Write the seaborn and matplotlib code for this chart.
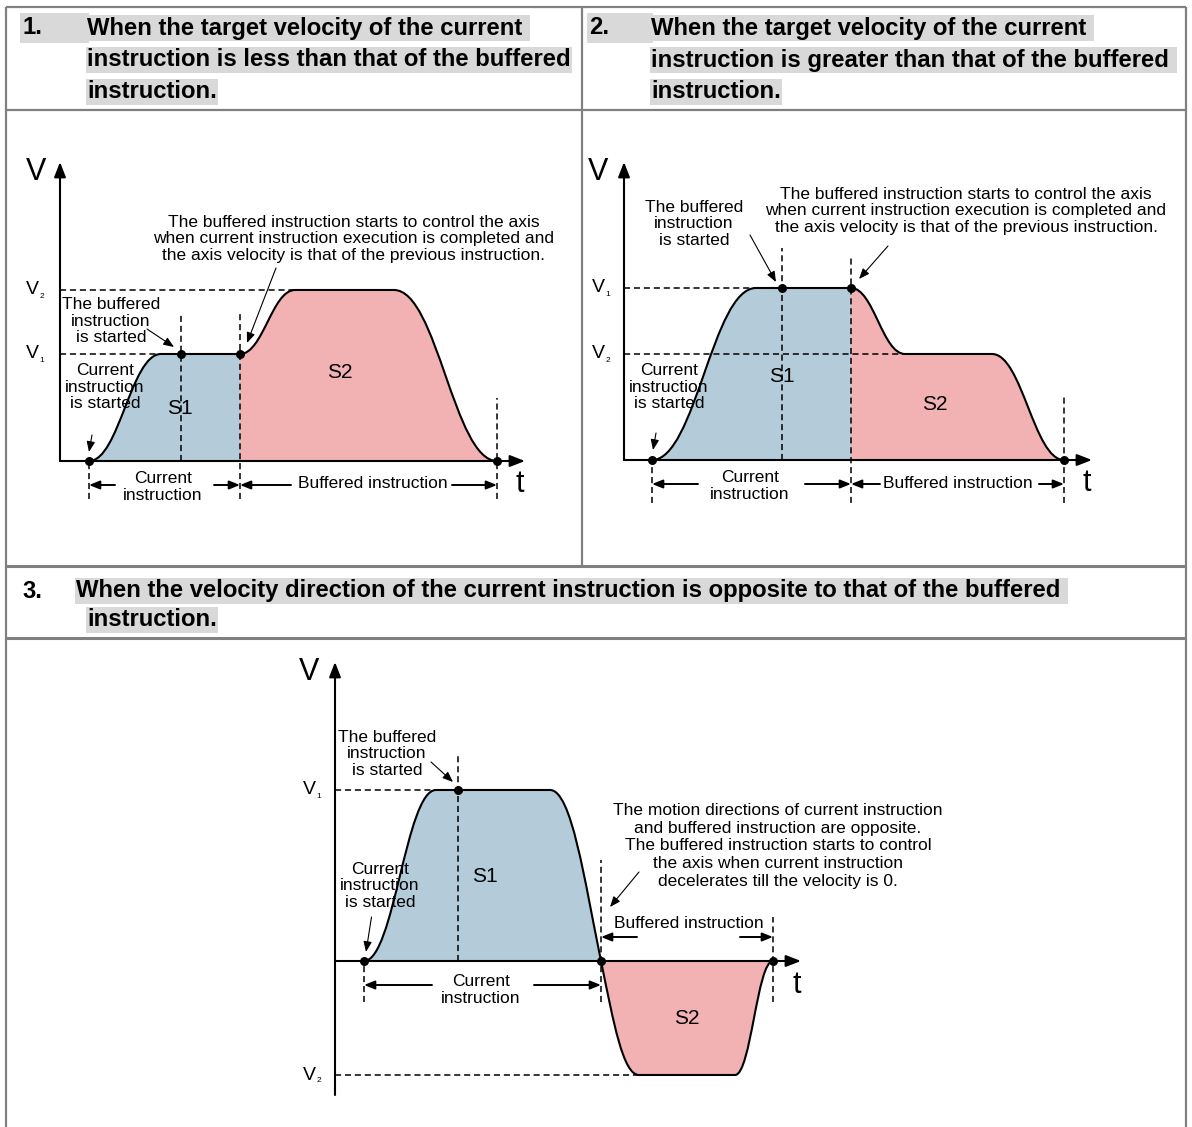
#!/usr/bin/env python3
"""Buffered-instruction velocity profiles (three cases) drawn as a bordered table."""

import matplotlib

matplotlib.use("Agg")
import matplotlib.pyplot as plt
import seaborn as sns
from matplotlib.path import Path
from matplotlib.patches import PathPatch, Rectangle

FIG_W, FIG_H = 1192, 1127

# ---------------- data: velocity profiles (t, V in diagram units) ----------------
# case 1: current target velocity < buffered target velocity
C1_T = [2.9, 10.1, 18.0, 23.5, 33.4, 43.7]
C1_V = [0.0, 10.7, 10.7, 17.1, 17.1, 0.0]
C1_SLOPE = [0, 0, 0, 0, 0, 0]
C1_SPLIT = 2
C1_DOT_T = [2.9, 12.1, 18.0, 43.7]
C1_DOT_V = [0.0, 10.7, 10.7, 0.0]
C1_LEVEL_NAME = ["2", "1"]
C1_LEVEL_V = [17.1, 10.7]
C1_LEVEL_END = [23.5, 10.1]
C1_GUIDE_T = [12.1, 18.0, 2.9, 43.7]
C1_GUIDE_LO = [0.0, -3.8, -3.8, -3.8]
C1_GUIDE_HI = [14.9, 14.9, 0.0, 6.3]

# case 2: current target velocity > buffered target velocity
C2_T = [2.8, 13.2, 22.7, 28.1, 36.8, 44.0]
C2_V = [0.0, 17.2, 17.2, 10.6, 10.6, 0.0]
C2_SLOPE = [0, 0, 0, 0, 0, 0]
C2_SPLIT = 2
C2_DOT_T = [2.8, 15.8, 22.7, 44.0]
C2_DOT_V = [0.0, 17.2, 17.2, 0.0]
C2_LEVEL_NAME = ["1", "2"]
C2_LEVEL_V = [17.2, 10.6]
C2_LEVEL_END = [13.2, 28.1]
C2_GUIDE_T = [15.8, 22.7, 2.8, 44.0]
C2_GUIDE_LO = [0.0, -4.3, -4.3, -4.3]
C2_GUIDE_HI = [21.2, 20.3, 0.0, 6.3]

# case 3: opposite velocity directions
C3_T = [2.9, 10.1, 21.5, 26.6, 30.4, 40.0, 43.8]
C3_V = [0.0, 17.1, 17.1, 0.0, -11.4, -11.4, 0.0]
C3_SLOPE = [0, 0, 0, -4.9, 0, 0, 0]
C3_SPLIT = 3
C3_DOT_T = [2.9, 12.3, 26.6, 43.8]
C3_DOT_V = [0.0, 17.1, 0.0, 0.0]
C3_LEVEL_NAME = ["1", "2"]
C3_LEVEL_V = [17.1, -11.4]
C3_LEVEL_END = [10.1, 30.4]
C3_GUIDE_T = [12.3, 2.9, 26.6, 43.8]
C3_GUIDE_LO = [0.0, -4.1, -4.1, -4.1]
C3_GUIDE_HI = [20.8, 0.0, 10.1, 4.4]

HEAD1 = ["When the target velocity of the current ",
         "instruction is less than that of the buffered",
         "instruction."]
HEAD2 = ["When the target velocity of the current ",
         "instruction is greater than that of the buffered ",
         "instruction."]
HEAD3 = ["When the velocity direction of the current instruction is opposite to that of the buffered ",
         "instruction."]

NOTE_AXIS = ("The buffered instruction starts to control the axis\n"
             "when current instruction execution is completed and\n"
             "the axis velocity is that of the previous instruction.")
NOTE_OPPOSITE = ("The motion directions of current instruction\n"
                 "and buffered instruction are opposite.\n"
                 "The buffered instruction starts to control\n"
                 "the axis when current instruction\n"
                 "decelerates till the velocity is 0.")
BUF_STARTED = "The buffered\ninstruction\nis started"
CUR_STARTED = "Current\ninstruction\nis started"

BLUE = "#b4ccd9"
PINK = "#f2b1b3"
GRID = "#808080"
HILITE = "#d9d9d9"
DASH = (0, (4, 2.5))


def profile_path(t, v, m, i0, i1, close=False, frac=0.42):
    verts = [(t[i0], v[i0])]
    codes = [Path.MOVETO]
    for i in range(i0, i1):
        dt = t[i + 1] - t[i]
        h0 = frac * dt if m[i] == 0 else dt / 3
        h1 = frac * dt if m[i + 1] == 0 else dt / 3
        verts += [(t[i] + h0, v[i] + h0 * m[i]), (t[i + 1] - h1, v[i + 1] - h1 * m[i + 1]), (t[i + 1], v[i + 1])]
        codes += [Path.CURVE4] * 3
    if close:
        verts += [(t[i1], 0.0), (t[i0], 0.0), (t[i0], v[i0])]
        codes += [Path.LINETO, Path.LINETO, Path.CLOSEPOLY]
    return Path(verts, codes)


def arrow(ax, start, end, lw=1.0, scale=9, head="-|>,head_length=0.7,head_width=0.28"):
    ax.annotate("", xy=end, xytext=start, annotation_clip=False,
                arrowprops=dict(arrowstyle=head, color="black", lw=lw, shrinkA=0, shrinkB=0,
                                mutation_scale=scale))


def diagram_axes(fig, cell, origin):
    L, T, R, B = cell
    ox, oy = origin
    ax = fig.add_axes([L / FIG_W, 1 - B / FIG_H, (R - L) / FIG_W, (B - T) / FIG_H])
    ax.set_xlim((L - ox) / 10, (R - ox) / 10)
    ax.set_ylim((oy - B) / 10, (oy - T) / 10)
    ax.set_facecolor("none")
    ax.axis("off")
    return ax


def draw_profile(ax, t, v, m, split, dot_t, dot_v, lv_name, lv_v, lv_end, g_t, g_lo, g_hi,
                 y_top, y_bottom, x_tip, lab_x):
    ax.add_patch(PathPatch(profile_path(t, v, m, 0, split, close=True), facecolor=BLUE, edgecolor="none", zorder=1))
    ax.add_patch(PathPatch(profile_path(t, v, m, split, len(t) - 1, close=True), facecolor=PINK, edgecolor="none", zorder=1))
    ax.add_patch(PathPatch(profile_path(t, v, m, 0, len(t) - 1), facecolor="none", edgecolor="black", lw=1.5, zorder=4))

    ax.hlines(lv_v, 0, lv_end, colors="black", linestyles=DASH, lw=1.1, zorder=3)
    ax.vlines(g_t, g_lo, g_hi, colors="black", linestyles=DASH, lw=1.1, zorder=3)

    # axes with arrow heads
    axis_head = "-|>,head_length=0.9,head_width=0.35"
    arrow(ax, (0, y_bottom), (0, y_top), lw=1.5, scale=10, head=axis_head)
    arrow(ax, (0, 0), (x_tip, 0), lw=1.5, scale=10, head=axis_head)
    sns.scatterplot(x=dot_t, y=dot_v, ax=ax, color="black", s=42, linewidth=0, zorder=6, legend=False)

    for name, val in zip(lv_name, lv_v):
        ax.text(lab_x, val, "V", fontsize=14, ha="center", va="center")
        ax.text(lab_x + 1.0, val - 0.6, name, fontsize=6, ha="center", va="center")


def main() -> None:
    sns.set_theme(style="white")
    plt.rcParams["font.family"] = ["Liberation Sans", "DejaVu Sans"]
    plt.rcParams["text.color"] = "black"
    fig = plt.figure(figsize=(FIG_W / 100, FIG_H / 100), dpi=100)

    # ---------------- table frame and headers ----------------
    bg = fig.add_axes([0, 0, 1, 1])
    bg.set_xlim(0, FIG_W)
    bg.set_ylim(FIG_H, 0)
    bg.axis("off")
    bg.hlines([7, 110], 6, 1186, colors=GRID, lw=1.6)
    bg.hlines([566, 638], 6, 1186, colors=GRID, lw=2.2)
    bg.vlines([6, 1186], 7, FIG_H, colors=GRID, lw=1.6)
    bg.vlines(582, 7, 566, colors=GRID, lw=1.6)

    hfont = dict(fontsize=17.2, fontweight="bold", va="center", ha="left")
    hbox = dict(boxstyle="square,pad=0.05", facecolor=HILITE, edgecolor="none")

    def header(num_x, num, text_x, lines, ys, num_hilite=True, indent_x=None):
        if num_hilite:
            bg.add_patch(Rectangle((num_x - 2, ys[0] - 15), text_x - num_x + 4, 30, facecolor=HILITE, edgecolor="none"))
        bg.text(num_x, ys[0], num, **hfont)
        for k, (line, y) in enumerate(zip(lines, ys)):
            x = text_x if (k == 0 or indent_x is None) else indent_x
            bg.text(x, y, line, bbox=hbox, **hfont)

    header(22, "1.", 87, HEAD1, [28, 60, 92])
    header(589, "2.", 651, HEAD2, [28, 60, 92])
    header(22, "3.", 76, HEAD3, [591, 620], num_hilite=False, indent_x=87)

    note = dict(fontsize=12.5, ha="center", va="center", linespacing=1.15)
    sfont = dict(fontsize=15, ha="center", va="center", zorder=5)

    # ---------------- case 1 ----------------
    ax1 = diagram_axes(fig, (8, 112, 580, 564), (60, 461))
    draw_profile(ax1, C1_T, C1_V, C1_SLOPE, C1_SPLIT, C1_DOT_T, C1_DOT_V, C1_LEVEL_NAME, C1_LEVEL_V,
                 C1_LEVEL_END, C1_GUIDE_T, C1_GUIDE_LO, C1_GUIDE_HI, 29.9, 0, 46.5, -2.8)
    ax1.text(-2.4, 28.9, "V", fontsize=22, ha="center", va="center")
    ax1.text(46.0, -2.3, "t", fontsize=22, ha="center", va="center")
    ax1.text(12.0, 5.3, "S1", **sfont)
    ax1.text(28.0, 8.9, "S2", **sfont)
    ax1.text(29.4, 22.2, NOTE_AXIS, **note)
    arrow(ax1, (21.6, 19.3), (18.7, 11.8), lw=0.8, scale=9)
    ax1.text(5.1, 14.0, BUF_STARTED, zorder=5, **note)
    arrow(ax1, (8.7, 13.2), (11.4, 11.4), lw=0.8, scale=9)
    ax1.text(4.5, 7.4, CUR_STARTED, zorder=5, **note)
    arrow(ax1, (3.2, 2.6), (2.9, 0.9), lw=0.8, scale=9)
    ax1.text(10.3, -2.6, "Current\ninstruction", **note)
    arrow(ax1, (5.5, -2.4), (2.9, -2.4), lw=1.4)
    arrow(ax1, (15.4, -2.4), (18.0, -2.4), lw=1.4)
    ax1.text(31.3, -2.2, "Buffered instruction", **note)
    arrow(ax1, (23.1, -2.4), (18.0, -2.4), lw=1.4)
    arrow(ax1, (39.2, -2.4), (43.7, -2.4), lw=1.4)

    # ---------------- case 2 ----------------
    ax2 = diagram_axes(fig, (584, 112, 1184, 564), (624, 460))
    draw_profile(ax2, C2_T, C2_V, C2_SLOPE, C2_SPLIT, C2_DOT_T, C2_DOT_V, C2_LEVEL_NAME, C2_LEVEL_V,
                 C2_LEVEL_END, C2_GUIDE_T, C2_GUIDE_LO, C2_GUIDE_HI, 29.8, 0, 46.8, -2.6)
    ax2.text(-2.6, 28.8, "V", fontsize=22, ha="center", va="center")
    ax2.text(46.3, -2.3, "t", fontsize=22, ha="center", va="center")
    ax2.text(15.8, 8.3, "S1", **sfont)
    ax2.text(31.1, 5.5, "S2", **sfont)
    ax2.text(34.2, 24.9, NOTE_AXIS, **note)
    arrow(ax2, (26.4, 21.4), (23.5, 18.1), lw=0.8, scale=9)
    ax2.text(7.0, 23.6, BUF_STARTED, **note)
    arrow(ax2, (12.6, 22.5), (15.2, 17.8), lw=0.8, scale=9)
    ax2.text(4.5, 7.3, CUR_STARTED, zorder=5, **note)
    arrow(ax2, (3.2, 2.7), (2.9, 1.0), lw=0.8, scale=9)
    ax2.text(12.6, -2.6, "Current\ninstruction", **note)
    arrow(ax2, (7.4, -2.4), (2.8, -2.4), lw=1.4)
    arrow(ax2, (18.1, -2.4), (22.7, -2.4), lw=1.4)
    ax2.text(33.4, -2.3, "Buffered instruction", **note)
    arrow(ax2, (25.6, -2.4), (22.7, -2.4), lw=1.4)
    arrow(ax2, (41.5, -2.4), (44.0, -2.4), lw=1.4)

    # ---------------- case 3 ----------------
    ax3 = diagram_axes(fig, (8, 640, 1184, 1127), (335, 961))
    draw_profile(ax3, C3_T, C3_V, C3_SLOPE, C3_SPLIT, C3_DOT_T, C3_DOT_V, C3_LEVEL_NAME, C3_LEVEL_V,
                 C3_LEVEL_END, C3_GUIDE_T, C3_GUIDE_LO, C3_GUIDE_HI, 29.9, -13.4, 46.6, -2.6)
    ax3.text(-2.6, 28.9, "V", fontsize=22, ha="center", va="center")
    ax3.text(46.2, -2.4, "t", fontsize=22, ha="center", va="center")
    ax3.text(15.0, 8.5, "S1", **sfont)
    ax3.text(35.2, -5.7, "S2", **sfont)
    ax3.text(5.2, 20.7, BUF_STARTED, **note)
    arrow(ax3, (9.6, 19.9), (11.8, 17.9), lw=0.8, scale=9)
    ax3.text(4.5, 7.5, CUR_STARTED, zorder=5, **note)
    arrow(ax3, (3.65, 4.4), (3.1, 0.9), lw=0.8, scale=9)
    ax3.text(44.3, 11.5, NOTE_OPPOSITE, **dict(note, linespacing=1.22))
    arrow(ax3, (30.4, 8.9), (27.5, 5.4), lw=0.8, scale=9)
    ax3.text(27.9, 3.8, "Buffered instruction", fontsize=12.5, ha="left", va="center")
    arrow(ax3, (30.2, 2.4), (26.6, 2.4), lw=1.4)
    arrow(ax3, (40.5, 2.4), (43.8, 2.4), lw=1.4)
    ax3.text(14.6, -2.9, "Current\ninstruction", **note)
    arrow(ax3, (9.7, -2.4), (2.9, -2.4), lw=1.4)
    arrow(ax3, (19.9, -2.4), (26.6, -2.4), lw=1.4)

    fig.savefig("out.png", dpi=100, facecolor="white")
    plt.close(fig)


if __name__ == "__main__":
    main()
